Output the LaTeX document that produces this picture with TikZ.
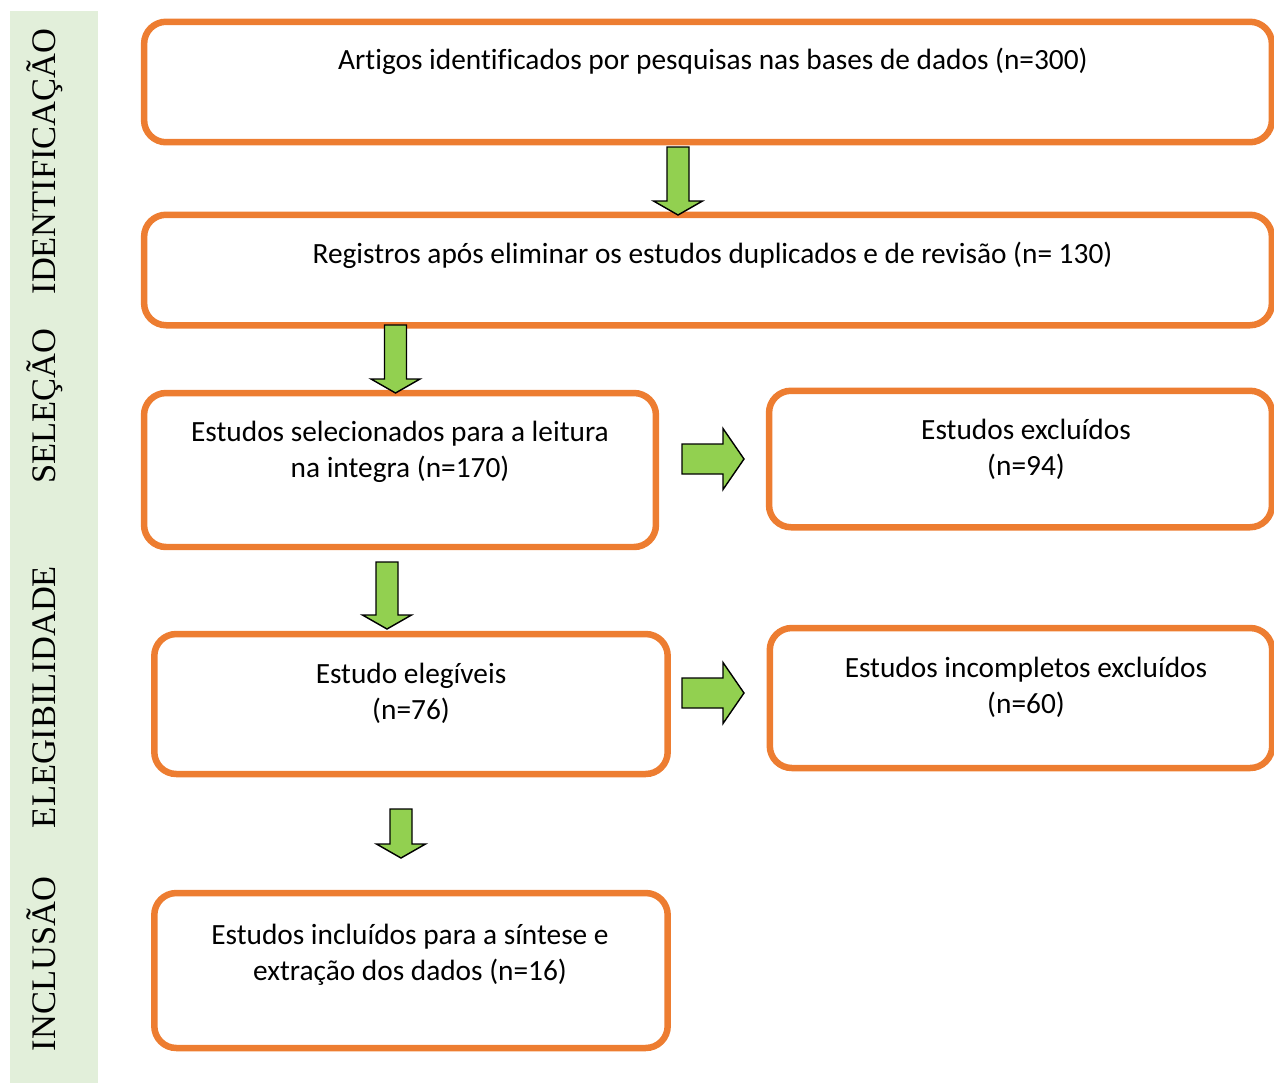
\documentclass[tikz,border=0pt]{standalone}
\usepackage{fontspec}
\setmainfont{Carlito}[Ligatures=NoCommon]
\newfontfamily\rotulofont{Liberation Serif}
\usepackage{tikz}
\usetikzlibrary{shapes,arrows}
\usetikzlibrary{positioning}
\definecolor{laranja}{HTML}{ED7D31}
\definecolor{verde}{HTML}{92D050}
\definecolor{faixa}{HTML}{E2EFDA}
% seta em bloco para baixo: x, y da cauda, y da ponta
\newcommand{\setabaixo}[3]{%
	\draw[bloco] (#1-11,#2) -- (#1+11,#2) -- (#1+11,#3-14) -- (#1+24.5,#3-14)
		-- (#1,#3) -- (#1-24.5,#3-14) -- (#1-11,#3-14) -- cycle;}
% seta em bloco para a direita: y, x da cauda, x da ponta
\newcommand{\setadireita}[3]{%
	\draw[bloco] (#2,#1-15) -- (#3-21,#1-15) -- (#3-21,#1-30.5) -- (#3,#1)
		-- (#3-21,#1+30.5) -- (#3-21,#1+15) -- (#2,#1+15) -- cycle;}

\begin{document}
\begin{tikzpicture}
	[x=0.02cm,y=-0.02cm,
	caixa/.style={draw=laranja,line width=0.13cm,rounded corners=0.44cm,inner sep=0pt},
	texto/.style={align=center,inner sep=0pt,font=\fontsize{16.7}{20.4}\selectfont},
	fase/.style={rotate=90,anchor=base,inner sep=0pt,font=\rotulofont\fontsize{19.6}{22}\selectfont},
	bloco/.style={draw=black,fill=verde,line width=0.8pt,line join=miter}]
	\useasboundingbox (0,0) rectangle (1274,1083);
	% faixa das fases
	\fill[faixa] (10,11) rectangle (98,1083);
	\node [fase] (f1) at (55,161.5) {IDENTIFICAÇÃO};
	\node [fase] (f2) at (55,406.5) {SELEÇÃO};
	\node [fase] (f3) at (55,697) {ELEGIBILIDADE};
	\node [fase] (f4) at (55,964) {INCLUSÃO};
	% caixas
	\node [caixa,minimum width=22.56cm,minimum height=2.41cm] (b1) at (708,82) {};
	\node [caixa,minimum width=22.56cm,minimum height=2.21cm] (b2) at (708,270) {};
	\node [caixa,minimum width=10.24cm,minimum height=3.08cm] (b3) at (400,470) {};
	\node [caixa,minimum width=10.06cm,minimum height=2.73cm] (b4) at (1020.5,459) {};
	\node [caixa,minimum width=10.27cm,minimum height=2.80cm] (b5) at (411,704) {};
	\node [caixa,minimum width=10.05cm,minimum height=2.80cm] (b6) at (1021,698) {};
	\node [caixa,minimum width=10.27cm,minimum height=3.10cm] (b7) at (411,970.5) {};
	% textos
	\node [texto] (t1) at (713,61) {Artigos identificados por pesquisas nas bases de dados (n=300)};
	\node [texto] (t2) at (712.5,255) {Registros após eliminar os estudos duplicados e de revisão (n= 130)};
	\node [texto] (t3) at (400,452) {Estudos selecionados para a leitura\\na integra (n=170)};
	\node [texto] (t4) at (1026,449) {Estudos excluídos\\(n=94)};
	\node [texto] (t5) at (411,693) {Estudo elegíveis\\(n=76)};
	\node [texto] (t6) at (1026,687.5) {Estudos incompletos excluídos\\(n=60)};
	\node [texto] (t7) at (410,954.5) {Estudos incluídos para a síntese e\\extração dos dados (n=16)};
	% setas
	\setabaixo{678}{147}{215}
	\setabaixo{395.5}{325}{393}
	\setabaixo{387}{562}{629}
	\setabaixo{401}{809}{858}
	\setadireita{459}{682}{744}
	\setadireita{693}{682}{744}
\end{tikzpicture}
\end{document}
